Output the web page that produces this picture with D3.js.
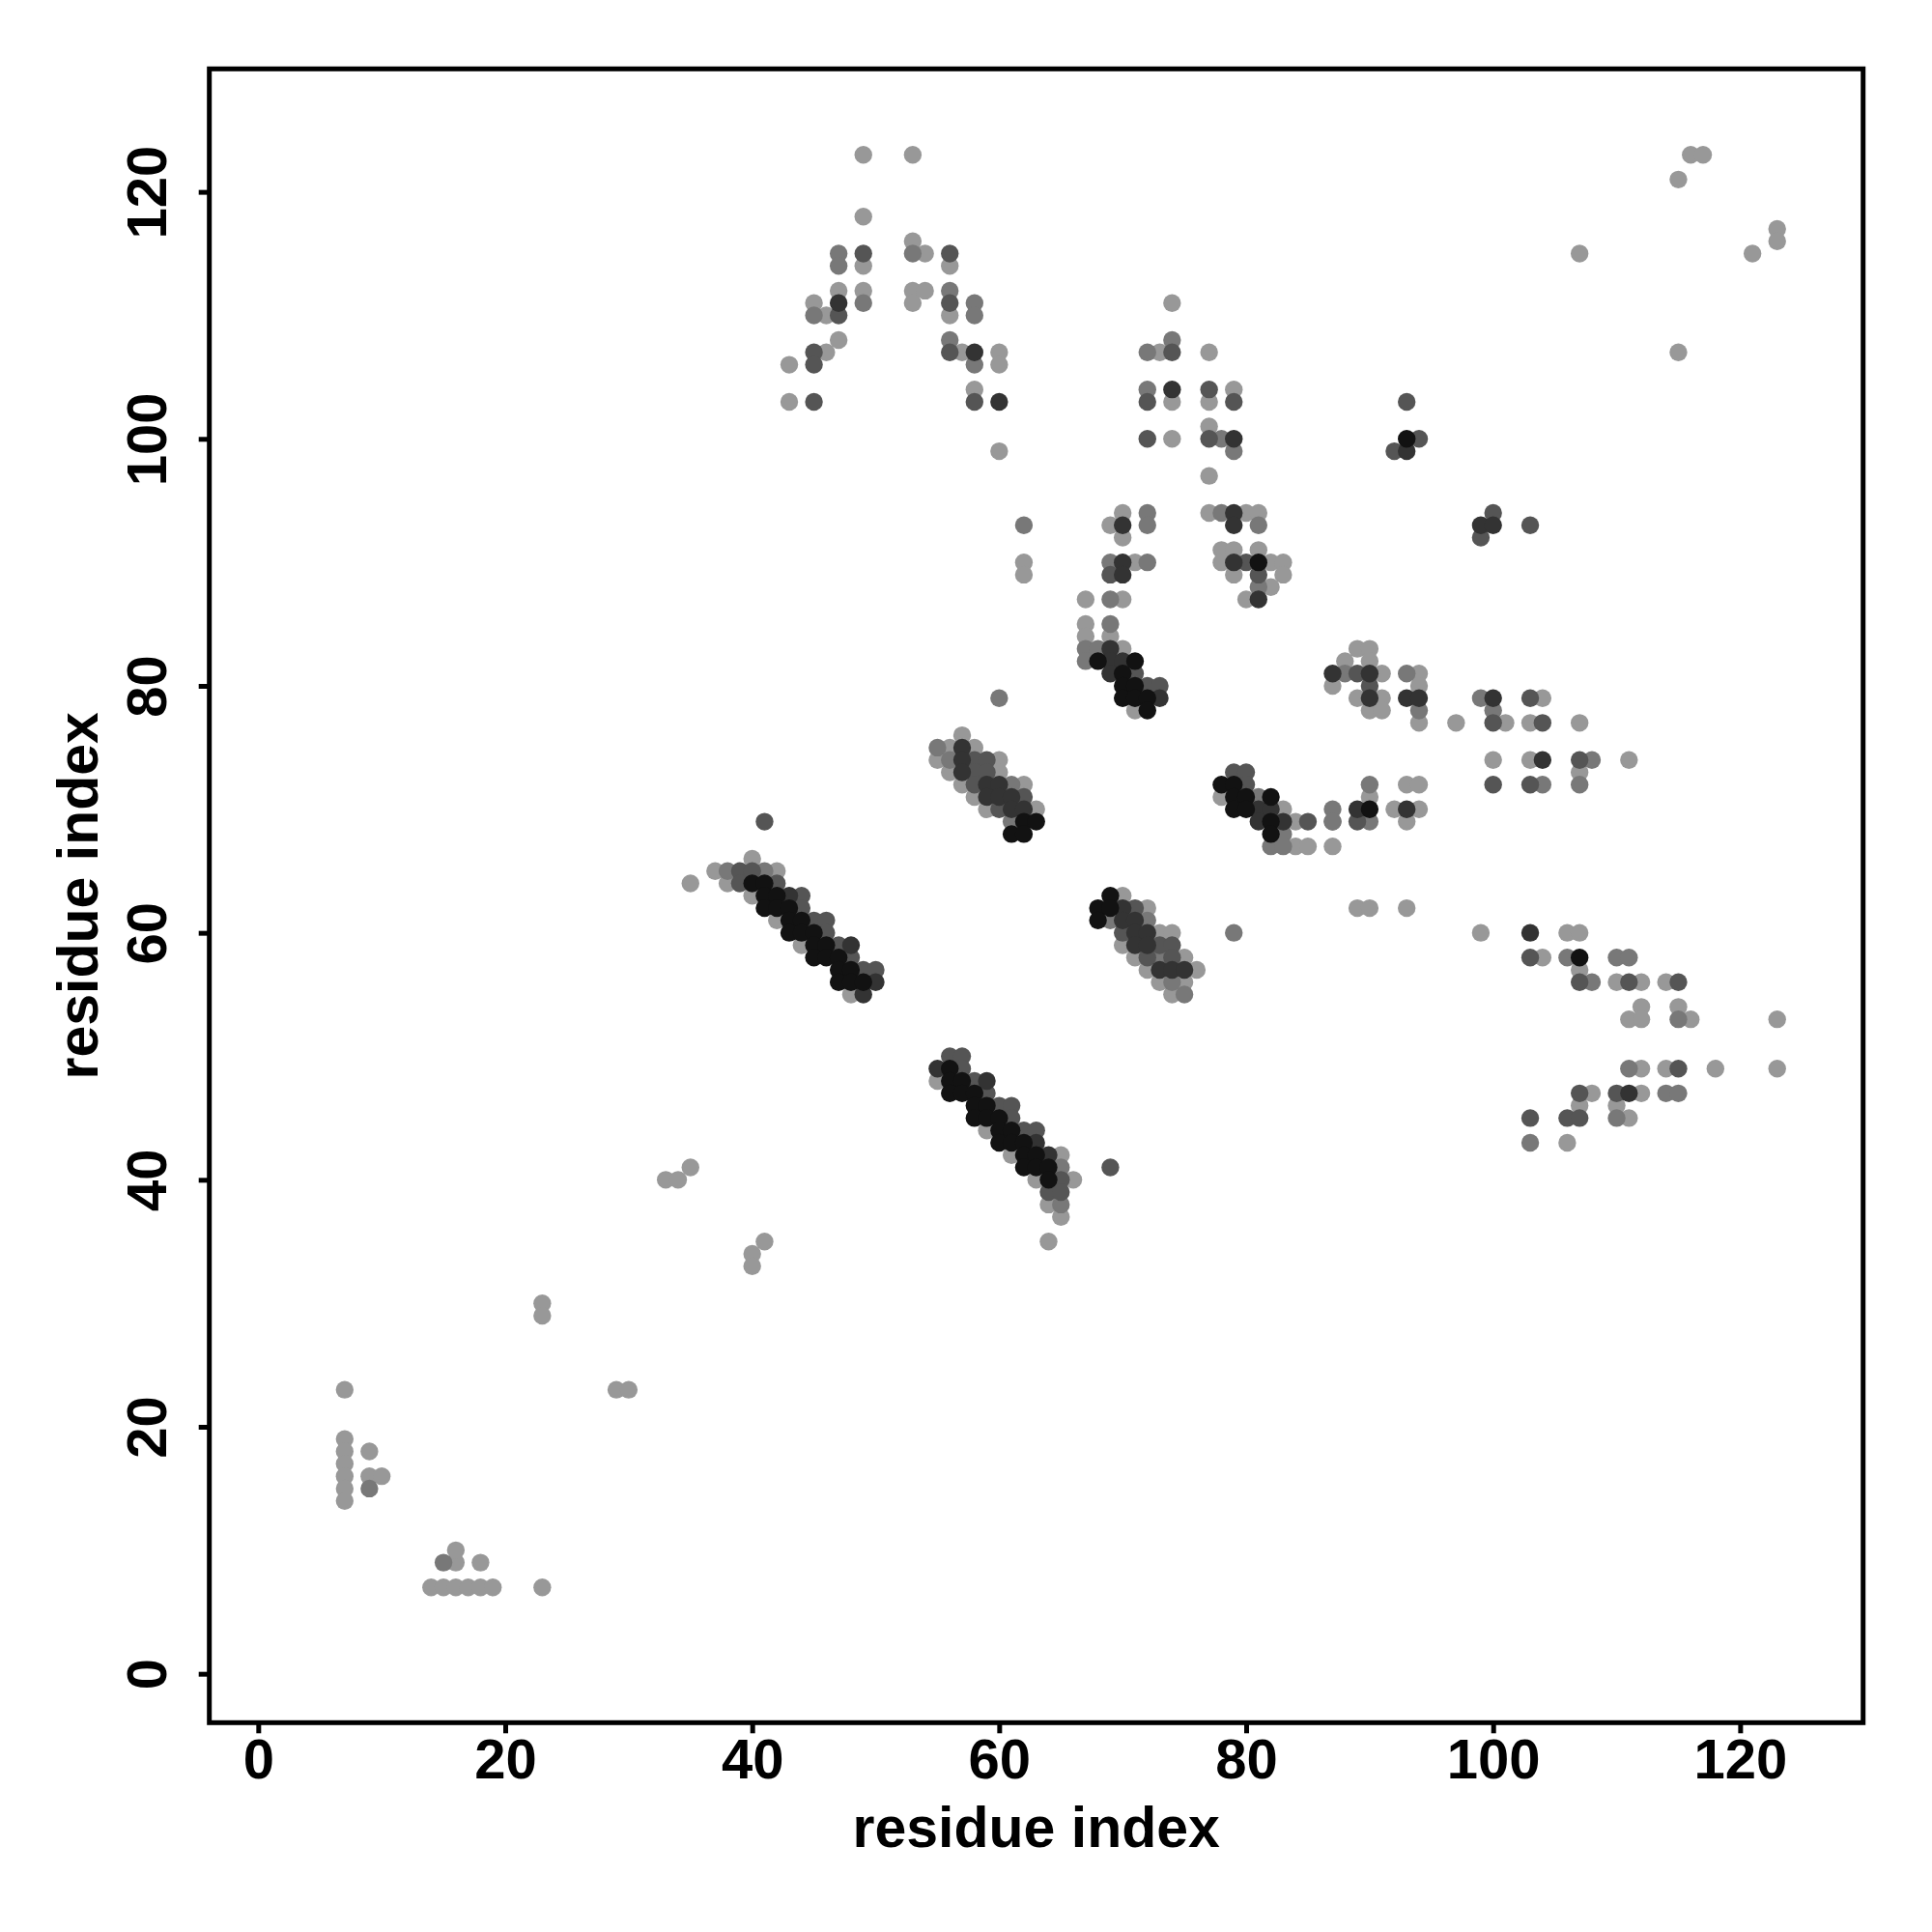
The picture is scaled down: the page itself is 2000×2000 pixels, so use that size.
<!DOCTYPE html>
<html>
<head>
<meta charset="utf-8">
<script src="https://cdn.jsdelivr.net/npm/d3@7/dist/d3.min.js"></script>
<style>
  html, body { margin: 0; padding: 0; background: #ffffff; }
  svg { display: block; }
</style>
</head>
<body>
<div id="chart"></div>
<script>
// ---- Data: residue contact pairs [i, j], grouped by contact strength (1 = weak/light ... 5 = strong/black)
const level1 = [
  [23,30],[23,29],[7,23],[29,23],[30,23],[7,19],[7,18],[7,17],[7,16],[7,15],[7,14],[9,18],[9,16],[10,16],
  [14,7],[15,7],[16,7],[17,7],[18,7],[19,7],[23,7],[16,9],[18,9],[16,10],
  [35,64],[40,66],[37,65],[42,65],[38,64],[40,63],[42,61],[44,59],[48,55],
  [35,41],[33,40],[34,40],[41,35],[40,34],[40,33],
  [55,48],[59,44],[61,42],[65,42],[63,40],[66,40],[64,38],[65,37],[64,35],
  [57,76],[56,75],[58,75],[55,74],[60,74],[56,73],[60,73],[57,72],[62,72],[58,71],[59,70],[63,70],
  [78,71],[83,70],[84,69],[84,67],[85,67],[87,67],
  [70,63],[72,62],[73,60],[74,60],[70,59],[71,58],[75,58],[72,57],[76,57],[73,56],[75,56],[74,55],
  [62,90],[62,89],[70,94],[69,93],[70,92],[71,90],[67,87],[70,87],[67,85],[67,84],[69,84],[70,83],[71,78],
  [74,111],[73,107],[77,107],[79,104],[74,103],[77,103],[77,101],[74,100],[77,97],
  [77,94],[80,94],[81,94],[78,91],[79,91],[81,91],[78,90],[82,90],[83,90],[79,89],[83,89],[82,88],[80,87],
  [89,83],[90,83],[88,82],[90,82],[91,81],[94,81],[87,80],[94,80],[89,79],[91,79],[90,78],[91,78],[94,77],
  [93,72],[94,72],[90,71],[92,70],[94,70],[93,69],[89,62],[90,62],[93,62],
  [104,79],[97,77],[101,77],[103,77],[107,77],[100,74],[103,74],[111,74],[107,73],
  [99,60],[106,60],[107,60],[104,58],[107,57],[110,56],[112,56],[114,56],[112,54],[115,54],
  [111,53],[112,53],[116,53],[123,53],[112,49],[114,49],[118,49],[123,49],[108,47],[112,47],
  [107,46],[110,46],[111,45],[106,43],
  [116,123],[117,123],[115,121],[123,117],[123,116],[107,115],[121,115],[115,107],
  [49,123],[53,123],[49,118],[49,114],[53,116],[54,115],[56,114],
  [47,112],[49,112],[53,112],[54,112],[45,111],[53,111],[46,110],[56,110],[47,108],[46,107],[57,107],[60,107],
  [43,106],[60,106],[58,104],[43,103],[60,99]
];
const level2 = [
  [9,15],[15,9],[38,65],[41,65],[65,41],[65,38],
  [55,75],[56,74],[61,72],[61,69],[60,79],
  [81,71],[83,68],[82,67],[83,67],[87,69],
  [69,61],[72,61],[73,58],[74,56],[75,55],[79,60],
  [62,93],[72,94],[72,93],[69,90],[72,90],[69,87],[69,85],[67,83],[68,83],[67,82],
  [74,108],[72,107],[72,104],[78,100],[79,99],[78,94],[81,93],[81,88],
  [88,81],[93,81],[94,78],[90,72],[87,70],[87,69],[90,69],
  [99,79],[100,78],[108,74],[104,72],[107,72],
  [106,58],[110,58],[111,58],[108,56],[115,53],[111,49],[114,47],[115,47],[110,45],[103,43],
  [47,115],[47,114],[53,115],[56,112],[49,111],[58,111],[45,110],[58,110],[56,108],[58,106]
];
const level3 = [
  [39,65],[40,65],[39,64],[42,64],[44,63],[44,62],[45,61],[46,61],[46,60],[47,59],[48,58],[49,57],[50,57],[41,69],
  [56,50],[57,50],[57,49],[58,48],[59,47],[60,46],[61,46],[61,45],[62,44],[63,44],[65,40],[64,39],[65,39],[69,41],
  [58,74],[59,74],[58,73],[59,73],[58,72],[62,71],[60,70],
  [79,73],[80,73],[80,72],[85,69],
  [71,62],[70,60],[73,59],[74,59],[72,58],[74,58],
  [69,89],[71,81],[72,80],[73,80],
  [74,107],[77,104],[72,103],[79,103],[72,100],[77,100],[80,90],[81,89],
  [89,81],[90,80],[89,69],
  [103,79],[100,77],[104,77],[107,74],[100,72],[103,72],
  [103,58],[107,56],[111,56],[115,56],[115,49],[107,47],[110,47],[103,45],[106,45],[107,45],
  [93,103],[94,100],[92,99],[100,94],[99,92],[103,93],
  [49,115],[56,115],[56,111],[47,110],[45,107],[56,107],[45,106],[45,103],[58,103]
];
const level4 = [
  [43,63],[48,59],[50,56],[49,55],
  [55,49],[59,48],[63,43],[64,42],
  [57,75],[57,74],[57,73],[59,72],[60,72],[59,71],[60,71],[61,71],[61,70],[62,70],
  [81,70],[82,70],[81,69],[83,69],
  [70,62],[70,61],[71,61],[71,60],[72,60],[71,59],[72,59],[73,57],[74,57],[75,57],
  [70,93],[70,90],[70,89],[69,83],[69,82],[70,82],[69,81],[73,79],
  [74,104],[79,100],[79,94],[79,93],[79,90],[81,87],
  [87,81],[90,81],[90,79],[93,79],[94,79],[89,70],[93,70],
  [100,79],[104,74],[103,60],[111,47],
  [93,99],[99,93],[100,93],
  [47,111],[58,107],[60,103]
];
const level5 = [
  [40,64],[41,64],[41,63],[42,63],[41,62],[42,62],[43,62],[43,61],[44,61],[43,60],[44,60],[45,60],
  [45,59],[46,59],[45,58],[46,58],[47,58],[47,57],[48,57],[47,56],[48,56],[49,56],
  [56,49],[56,48],[57,48],[56,47],[57,47],[58,47],[58,46],[59,46],[58,45],[59,45],[60,45],
  [60,44],[61,44],[60,43],[61,43],[62,43],[62,42],[63,42],[62,41],[63,41],[64,41],[64,40],
  [62,69],[63,69],[61,68],[62,68],
  [78,72],[79,72],[79,71],[80,71],[82,71],[79,70],[80,70],[82,69],[82,68],
  [69,63],[68,62],[69,62],[68,61],
  [68,82],[71,82],[70,81],[70,80],[71,80],[70,79],[71,79],[72,79],[72,78],
  [81,90],[90,70],[107,58],[93,100]
];

const xTicks = [0, 20, 40, 60, 80, 100, 120];
const yTicks = [0, 20, 40, 60, 80, 100, 120];
const axisTitleX = "residue index";
const axisTitleY = "residue index";

// ---- Build table
const series = [level1, level2, level3, level4, level5];
const points = [];
series.forEach((arr, li) => arr.forEach(([i, j]) => points.push({ i, j, level: li + 1 })));

// ---- Layout
const W = 2000, H = 2000;
const box = { left: 216.7, right: 1928.7, top: 71.3, bottom: 1783.3 };
const domain = [-3.96, 129.96];

const svg = d3.select("#chart").append("svg")
  .attr("width", W).attr("height", H)
  .style("font-family", "'Liberation Sans', Arial, Helvetica, sans-serif");

svg.append("rect").attr("width", W).attr("height", H).attr("fill", "#ffffff");

const x = d3.scaleLinear().domain(domain).range([box.left, box.right]);
const y = d3.scaleLinear().domain(domain).range([box.bottom, box.top]);

const color = d3.scaleOrdinal()
  .domain([1, 2, 3, 4, 5])
  .range(["#989898", "#787878", "#555555", "#333333", "#121212"]);

// points
svg.append("g")
  .selectAll("circle")
  .data(points)
  .join("circle")
  .attr("cx", d => x(d.i))
  .attr("cy", d => y(d.j))
  .attr("r", 9.2)
  .attr("fill", d => color(d.level));

// axes
const xAxis = d3.axisBottom(x).tickValues(xTicks).tickSize(11).tickPadding(6).tickFormat(d3.format("d"));
const yAxis = d3.axisLeft(y).tickValues(yTicks).tickSize(11).tickPadding(6).tickFormat(d3.format("d"));

const gx = svg.append("g").attr("transform", `translate(0,${box.bottom})`).call(xAxis);
gx.select(".domain").remove();
gx.selectAll(".tick line").attr("stroke", "#000").attr("stroke-width", 5);
gx.selectAll(".tick text")
  .attr("fill", "#000")
  .attr("font-size", 58)
  .attr("font-weight", "bold")
  .attr("dy", null)
  .attr("y", 58);

const gy = svg.append("g").attr("transform", `translate(${box.left},0)`).call(yAxis);
gy.select(".domain").remove();
gy.selectAll(".tick line").attr("stroke", "#000").attr("stroke-width", 5);
gy.selectAll(".tick text")
  .attr("fill", "#000")
  .attr("font-size", 58)
  .attr("font-weight", "bold")
  .attr("text-anchor", "middle")
  .attr("x", null).attr("dy", null)
  .attr("transform", "translate(-45,0) rotate(-90)");

// frame
svg.append("rect")
  .attr("x", box.left).attr("y", box.top)
  .attr("width", box.right - box.left).attr("height", box.bottom - box.top)
  .attr("fill", "none").attr("stroke", "#000").attr("stroke-width", 5);

// titles
svg.append("text")
  .attr("x", (box.left + box.right) / 2).attr("y", 1912)
  .attr("text-anchor", "middle")
  .attr("font-size", 59).attr("font-weight", "bold").attr("fill", "#000")
  .text(axisTitleX);

svg.append("text")
  .attr("transform", `translate(101,${(box.top + box.bottom) / 2}) rotate(-90)`)
  .attr("text-anchor", "middle")
  .attr("font-size", 59).attr("font-weight", "bold").attr("fill", "#000")
  .text(axisTitleY);
</script>
</body>
</html>
